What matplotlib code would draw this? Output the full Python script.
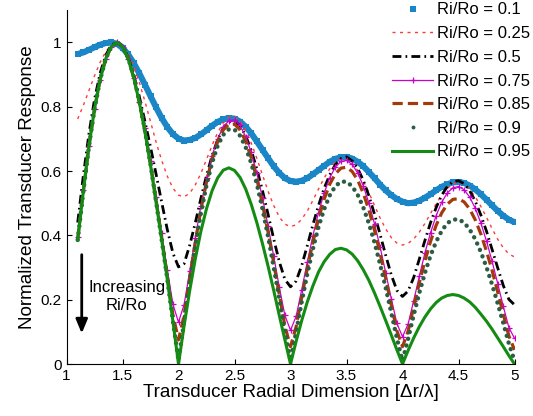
import matplotlib
matplotlib.use('Agg')
import matplotlib.pyplot as plt
from matplotlib.lines import Line2D

plt.rcParams['font.family'] = ['Liberation Sans', 'DejaVu Sans']

# Transducer radial dimension [dr/lambda]
x = [1.10, 1.15, 1.20, 1.25, 1.30, 1.35, 1.40, 1.45, 1.50, 1.55,
     1.60, 1.65, 1.70, 1.75, 1.80, 1.85, 1.90, 1.95, 2.00, 2.05,
     2.10, 2.15, 2.20, 2.25, 2.30, 2.35, 2.40, 2.45, 2.50, 2.55,
     2.60, 2.65, 2.70, 2.75, 2.80, 2.85, 2.90, 2.95, 3.00, 3.05,
     3.10, 3.15, 3.20, 3.25, 3.30, 3.35, 3.40, 3.45, 3.50, 3.55,
     3.60, 3.65, 3.70, 3.75, 3.80, 3.85, 3.90, 3.95, 4.00, 4.05,
     4.10, 4.15, 4.20, 4.25, 4.30, 4.35, 4.40, 4.45, 4.50, 4.55,
     4.60, 4.65, 4.70, 4.75, 4.80, 4.85, 4.90, 4.95, 5.00]

labels = ['Ri/Ro = 0.1', 'Ri/Ro = 0.25', 'Ri/Ro = 0.5', 'Ri/Ro = 0.75',
          'Ri/Ro = 0.85', 'Ri/Ro = 0.9', 'Ri/Ro = 0.95']

r010 = [0.964, 0.969, 0.977, 0.985, 0.993, 0.998, 1.000, 0.996, 0.983, 0.963,
        0.936, 0.904, 0.869, 0.833, 0.798, 0.765, 0.737, 0.715, 0.701, 0.695,
        0.697, 0.703, 0.714, 0.727, 0.741, 0.753, 0.761, 0.765, 0.763, 0.754,
        0.738, 0.717, 0.692, 0.666, 0.640, 0.615, 0.594, 0.578, 0.569, 0.567,
        0.570, 0.578, 0.590, 0.603, 0.616, 0.629, 0.638, 0.643, 0.644, 0.639,
        0.629, 0.615, 0.597, 0.578, 0.558, 0.540, 0.525, 0.513, 0.505, 0.500,
        0.502, 0.508, 0.517, 0.528, 0.540, 0.551, 0.559, 0.565, 0.566, 0.563,
        0.555, 0.543, 0.528, 0.511, 0.493, 0.476, 0.461, 0.449, 0.441]

r025 = [0.762, 0.804, 0.850, 0.896, 0.938, 0.971, 0.993, 1.000, 0.992, 0.967,
        0.927, 0.876, 0.817, 0.754, 0.690, 0.633, 0.584, 0.547, 0.525, 0.520,
        0.531, 0.557, 0.593, 0.636, 0.680, 0.720, 0.750, 0.767, 0.769, 0.755,
        0.727, 0.687, 0.639, 0.588, 0.537, 0.493, 0.457, 0.435, 0.427, 0.433,
        0.450, 0.476, 0.509, 0.544, 0.578, 0.607, 0.628, 0.639, 0.638, 0.625,
        0.602, 0.570, 0.533, 0.493, 0.454, 0.420, 0.393, 0.376, 0.370, 0.375,
        0.389, 0.410, 0.437, 0.468, 0.498, 0.525, 0.546, 0.560, 0.565, 0.560,
        0.544, 0.520, 0.490, 0.456, 0.421, 0.388, 0.361, 0.342, 0.333]

r050 = [0.440, 0.585, 0.715, 0.823, 0.904, 0.960, 0.992, 1.000, 0.989, 0.955,
        0.900, 0.832, 0.755, 0.675, 0.590, 0.503, 0.418, 0.345, 0.302, 0.312,
        0.369, 0.439, 0.515, 0.586, 0.648, 0.698, 0.734, 0.754, 0.756, 0.741,
        0.710, 0.664, 0.606, 0.539, 0.465, 0.389, 0.318, 0.263, 0.240, 0.258,
        0.306, 0.368, 0.433, 0.493, 0.546, 0.588, 0.620, 0.639, 0.644, 0.632,
        0.608, 0.571, 0.523, 0.466, 0.403, 0.338, 0.277, 0.229, 0.210, 0.227,
        0.269, 0.326, 0.384, 0.439, 0.486, 0.525, 0.552, 0.567, 0.570, 0.561,
        0.539, 0.506, 0.463, 0.413, 0.356, 0.299, 0.244, 0.201, 0.184]

r075 = [0.395, 0.540, 0.678, 0.794, 0.884, 0.949, 0.987, 1.000, 0.987, 0.950,
        0.891, 0.815, 0.735, 0.632, 0.520, 0.407, 0.293, 0.186, 0.130, 0.185,
        0.288, 0.393, 0.492, 0.577, 0.648, 0.701, 0.737, 0.757, 0.759, 0.742,
        0.707, 0.658, 0.593, 0.516, 0.429, 0.335, 0.239, 0.151, 0.105, 0.148,
        0.231, 0.317, 0.399, 0.471, 0.531, 0.579, 0.612, 0.630, 0.633, 0.621,
        0.594, 0.554, 0.500, 0.436, 0.364, 0.284, 0.203, 0.126, 0.085, 0.124,
        0.197, 0.273, 0.345, 0.408, 0.461, 0.503, 0.532, 0.548, 0.552, 0.542,
        0.519, 0.484, 0.438, 0.382, 0.319, 0.250, 0.179, 0.113, 0.080]

r085 = [0.390, 0.537, 0.676, 0.793, 0.884, 0.949, 0.987, 1.000, 0.987, 0.950,
        0.891, 0.814, 0.727, 0.623, 0.509, 0.393, 0.273, 0.153, 0.075, 0.151,
        0.267, 0.379, 0.480, 0.566, 0.638, 0.692, 0.728, 0.746, 0.746, 0.728,
        0.692, 0.641, 0.575, 0.497, 0.410, 0.315, 0.216, 0.118, 0.054, 0.116,
        0.208, 0.298, 0.379, 0.452, 0.512, 0.559, 0.591, 0.609, 0.612, 0.599,
        0.572, 0.531, 0.479, 0.416, 0.344, 0.266, 0.184, 0.103, 0.054, 0.102,
        0.178, 0.252, 0.321, 0.381, 0.431, 0.470, 0.497, 0.512, 0.514, 0.504,
        0.482, 0.448, 0.404, 0.351, 0.291, 0.224, 0.155, 0.087, 0.044]

r090 = [0.386, 0.536, 0.676, 0.793, 0.884, 0.949, 0.987, 1.000, 0.989, 0.953,
        0.895, 0.819, 0.727, 0.621, 0.505, 0.386, 0.265, 0.135, 0.010, 0.131,
        0.255, 0.368, 0.469, 0.556, 0.626, 0.679, 0.713, 0.730, 0.729, 0.710,
        0.674, 0.624, 0.559, 0.482, 0.396, 0.301, 0.203, 0.102, 0.010, 0.099,
        0.193, 0.280, 0.358, 0.426, 0.481, 0.524, 0.553, 0.567, 0.567, 0.553,
        0.526, 0.487, 0.437, 0.378, 0.310, 0.237, 0.159, 0.080, 0.010, 0.078,
        0.152, 0.221, 0.283, 0.337, 0.380, 0.414, 0.438, 0.449, 0.450, 0.440,
        0.418, 0.388, 0.348, 0.301, 0.247, 0.188, 0.127, 0.063, 0.010]

r095 = [0.386, 0.536, 0.676, 0.793, 0.884, 0.949, 0.987, 1.000, 0.987, 0.950,
        0.891, 0.814, 0.723, 0.618, 0.503, 0.386, 0.263, 0.133, 0.000, 0.119,
        0.228, 0.327, 0.413, 0.483, 0.539, 0.579, 0.603, 0.610, 0.602, 0.580,
        0.544, 0.496, 0.439, 0.374, 0.304, 0.229, 0.151, 0.075, 0.000, 0.070,
        0.135, 0.193, 0.243, 0.286, 0.318, 0.341, 0.356, 0.360, 0.355, 0.342,
        0.321, 0.293, 0.260, 0.221, 0.179, 0.135, 0.090, 0.044, 0.000, 0.042,
        0.081, 0.116, 0.146, 0.171, 0.191, 0.205, 0.213, 0.216, 0.213, 0.205,
        0.193, 0.176, 0.155, 0.133, 0.108, 0.081, 0.054, 0.026, 0.000]

xticks = [1, 1.5, 2, 2.5, 3, 3.5, 4, 4.5, 5]
yticks = [0, 0.2, 0.4, 0.6, 0.8, 1]

c_blue = '#1a86c8'
c_red = '#ff3a3a'
c_black = '#000000'
c_mag = '#cc00cc'
c_brown = '#a3390d'
c_dgreen = '#2d5c45'
c_green = '#148c14'

fig = plt.figure(figsize=(5.33, 4.16), dpi=100)
ax = fig.add_axes([66.5 / 533, 52 / 416, 448 / 533, 353.7 / 416])

ax.plot(x, r010, color=c_blue, lw=4.4, solid_capstyle='butt',
        marker='s', ms=4.4, mec=c_blue, mfc=c_blue, mew=0)
ax.plot(x, r025, color=c_red, lw=1.0, ls=(0, (2.2, 3.2)))
ax.plot(x, r050, color=c_black, lw=2.0, ls=(0, (3.2, 1.5, 0.6, 1.5)))
ax.plot(x, r075, color=c_mag, lw=0.9, marker='+', ms=5, mew=0.9)
ax.plot(x, r085, color=c_brown, lw=2.3, ls=(0, (3.2, 1.6)))
ax.plot(x, r090, color=c_dgreen, lw=3.2, ls=(0, (0.01, 1.55)),
        dash_capstyle='round')
ax.plot(x, r095, color=c_green, lw=2.2)

ax.set_xlim(1, 5)
ax.set_ylim(0, 1.1)
ax.set_xticks(xticks)
ax.set_xticklabels(['%g' % t for t in xticks])
ax.set_yticks(yticks)
ax.set_yticklabels(['%g' % t for t in yticks])
ax.tick_params(direction='in', length=3.5, width=0.8, labelsize=11)
for s in ('top', 'right'):
    ax.spines[s].set_visible(False)
ax.set_xlabel('Transducer Radial Dimension [\u0394r/\u03bb]', fontsize=13.6, labelpad=1)
ax.set_ylabel('Normalized Transducer Response', fontsize=13.6, labelpad=3)

ax.annotate('', xy=(1.136, 0.095), xytext=(1.136, 0.34),
            arrowprops=dict(arrowstyle='-|>,head_length=0.6,head_width=0.25',
                            color='black', lw=2, mutation_scale=14,
                            shrinkA=0, shrinkB=0))
ax.text(1.54, 0.21, 'Increasing\nRi/Ro', ha='center', va='center',
        fontsize=12, linespacing=1.2)

handles = [
    Line2D([], [], color=c_blue, ls='none', marker='s', ms=4.2, mew=0),
    Line2D([], [], color=c_red, lw=1.0, ls=(0, (2.2, 3.2))),
    Line2D([], [], color=c_black, lw=2.0, ls=(0, (3.2, 1.5, 0.6, 1.5))),
    Line2D([], [], color=c_mag, lw=0.9, marker='+', ms=5, mew=0.9),
    Line2D([], [], color=c_brown, lw=2.3, ls=(0, (3.2, 1.6))),
    Line2D([], [], color=c_dgreen, ls='none', marker='o', ms=2.8, mew=0),
    Line2D([], [], color=c_green, lw=2.2),
]
fig.legend(handles, labels, loc='upper right', bbox_to_anchor=(1.0, 1.0),
           frameon=False, fontsize=12, labelspacing=0.52, handlelength=2.45,
           handletextpad=0.25, borderpad=0.15, borderaxespad=0)

fig.savefig('out.png', dpi=100)
